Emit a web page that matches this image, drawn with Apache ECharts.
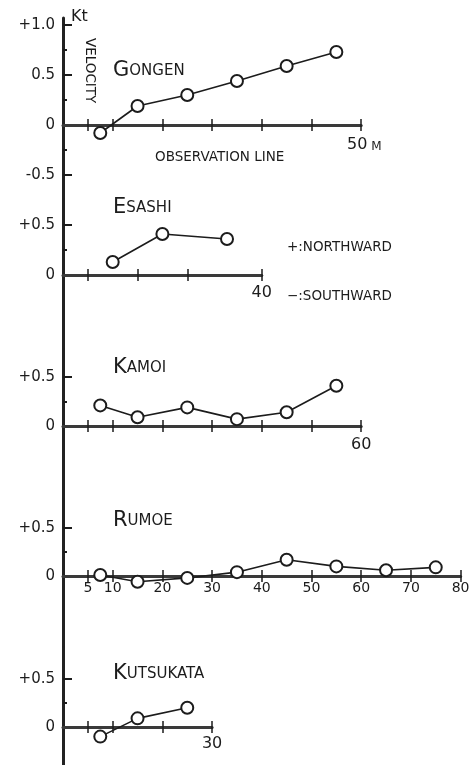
<!DOCTYPE html>
<html>
<head>
<meta charset="utf-8">
<title>Velocity along observation lines</title>
<script src="https://cdn.jsdelivr.net/npm/echarts@6/dist/echarts.min.js"></script>
<style>
  html, body { margin: 0; padding: 0; background: #fff; }
  #chart { width: 474px; height: 765px; }
</style>
</head>
<body>
<div id="chart"></div>
<script>
// Velocity (Kt, + northward / - southward) against distance along the observation line (m)
const stations = ['GONGEN', 'ESASHI', 'KAMOI', 'RUMOE', 'KUTSUKATA'];

const gongenDist = [7.5, 15, 25, 35, 45, 55];
const gongenVel = [-0.08, 0.19, 0.30, 0.44, 0.59, 0.73];
const esashiDist = [10, 20, 33];
const esashiVel = [0.13, 0.41, 0.36];
const kamoiDist = [7.5, 15, 25, 35, 45, 55];
const kamoiVel = [0.21, 0.09, 0.19, 0.07, 0.14, 0.41];
const rumoeDist = [7.5, 15, 25, 35, 45, 55, 65, 75];
const rumoeVel = [0.01, -0.06, -0.02, 0.04, 0.17, 0.10, 0.06, 0.09];
const kutsukataDist = [7.5, 15, 25];
const kutsukataVel = [-0.10, 0.09, 0.20];

// tick marks and tick labels on each observation line (m)
const gongenTicks = [5, 10, 20, 30, 40, 50, 60];
const esashiTicks = [5, 15, 25, 40];
const kamoiTicks = [5, 10, 20, 30, 40, 50, 60];
const rumoeTicks = [5, 10, 20, 30, 40, 50, 60, 70, 80];
const kutsukataTicks = [5, 10, 20, 30];
const gongenTickLabels = [];
const esashiTickLabels = [40];
const kamoiTickLabels = [60];
const rumoeTickLabels = [5, 10, 20, 30, 40, 50, 60, 70, 80];
const kutsukataTickLabels = [30];

// velocity tick labels
const gongenVelLabels = [1, 0.5, 0, -0.5];
const gongenVelText = ['+1.0', '0.5', '0', '-0.5'];
const otherVelLabels = [0.5, 0];
const otherVelText = ['+0.5', '0'];

const FONT = 'DejaVu Sans';
const INK = '#1c1c1c';
const LEFT = 63;          // x of the velocity axis
const PX_PER_M = 4.97;

// layout of the stacked panels (zero line y, px per Kt, lowest velocity shown)
const panels = [
  { dist: gongenDist, vel: gongenVel, ticks: gongenTicks, xLabels: gongenTickLabels,
    yLabels: gongenVelLabels, yText: gongenVelText, yMajor: [1, 0.5, -0.5], yMinor: [0.75, 0.25, -0.25],
    zero: 125, scale: 100, yMin: -0.75, xMargin: 10, xSize: 16, titleTop: 60 },
  { dist: esashiDist, vel: esashiVel, ticks: esashiTicks, xLabels: esashiTickLabels,
    yLabels: otherVelLabels, yText: otherVelText, yMajor: [0.5], yMinor: [0.25],
    zero: 275, scale: 100, yMin: -0.75, xMargin: 10, xSize: 16, titleTop: 197 },
  { dist: kamoiDist, vel: kamoiVel, ticks: kamoiTicks, xLabels: kamoiTickLabels,
    yLabels: otherVelLabels, yText: otherVelText, yMajor: [0.5], yMinor: [0.25],
    zero: 426, scale: 98, yMin: -0.75, xMargin: 11, xSize: 16, titleTop: 357 },
  { dist: rumoeDist, vel: rumoeVel, ticks: rumoeTicks, xLabels: rumoeTickLabels,
    yLabels: otherVelLabels, yText: otherVelText, yMajor: [0.5], yMinor: [0.25],
    zero: 576, scale: 96, yMin: -0.75, xMargin: 5, xSize: 14, titleTop: 510 },
  { dist: kutsukataDist, vel: kutsukataVel, ticks: kutsukataTicks, xLabels: kutsukataTickLabels,
    yLabels: otherVelLabels, yText: otherVelText, yMajor: [0.5], yMinor: [0.25],
    zero: 727, scale: 96, yMin: -0.5, xMargin: 9, xSize: 16, titleTop: 663 }
];

const grids = [];
const xAxes = [];
const yAxes = [];
const series = [];
const graphics = [];

let panelTop = 18;
panels.forEach((p, i) => {
  const end = p.ticks[p.ticks.length - 1];
  const yMax = (p.zero - panelTop) / p.scale;
  const below = -p.yMin * p.scale;   // px from zero line down to the grid bottom
  const height = (p.zero - panelTop) + below;

  grids.push({ left: LEFT, top: panelTop, width: end * PX_PER_M, height: height,
    containLabel: false, outerBoundsMode: 'none' });

  // observation line: ticks cross it, so one axis draws the lower half, one the upper.
  // labels stay at the grid bottom, so pull them back up to the zero line
  xAxes.push({
    type: 'value', gridIndex: i, position: 'bottom', min: 0, max: end,
    axisLine: { show: true, onZero: true, lineStyle: { color: '#3a3a3a', width: 3 } },
    axisTick: { show: true, customValues: p.ticks, length: 6, lineStyle: { color: INK, width: 1.5 } },
    axisLabel: { show: p.xLabels.length > 0, customValues: p.xLabels, margin: p.xMargin - below,
      fontFamily: FONT, fontSize: p.xSize, color: INK, showMinLabel: true, showMaxLabel: true },
    splitLine: { show: false }
  });
  xAxes.push({
    type: 'value', gridIndex: i, position: 'top', min: 0, max: end,
    axisLine: { show: false, onZero: true },
    axisTick: { show: true, customValues: p.ticks, length: 6, lineStyle: { color: INK, width: 1.5 } },
    axisLabel: { show: false },
    splitLine: { show: false }
  });

  yAxes.push({
    type: 'value', gridIndex: i, position: 'left', min: p.yMin, max: yMax,
    axisLine: { show: true, onZero: true, lineStyle: { color: '#222', width: 3 } },
    axisTick: { show: true, inside: true, customValues: p.yMajor, length: 9, lineStyle: { color: INK, width: 2 } },
    axisLabel: { show: true, customValues: p.yLabels, margin: 8, fontFamily: FONT, fontSize: 15, color: INK,
      showMinLabel: true, showMaxLabel: true,
      formatter: v => p.yText[p.yLabels.indexOf(v)] || '' },
    splitLine: { show: false }
  });
  yAxes.push({
    type: 'value', gridIndex: i, position: 'right', min: p.yMin, max: yMax,
    axisLine: { show: false, onZero: true },
    axisTick: { show: true, customValues: p.yMinor, length: 4, lineStyle: { color: INK, width: 2 } },
    axisLabel: { show: false },
    splitLine: { show: false }
  });

  series.push({
    type: 'line', name: stations[i], xAxisIndex: 2 * i, yAxisIndex: 2 * i,
    data: p.dist.map((d, k) => [d, p.vel[k]]),
    symbol: 'circle', symbolSize: 12, clip: false, z: 5,
    lineStyle: { color: INK, width: 1.6 },
    itemStyle: { color: '#fff', borderColor: INK, borderWidth: 2 },
    emphasis: { disabled: true }
  });

  // station name in small capitals
  const name = stations[i];
  graphics.push({
    type: 'text', left: 113, top: p.titleTop,
    style: {
      text: '{a|' + name[0] + '}{b|' + name.slice(1) + '}',
      rich: {
        a: { fontFamily: FONT, fontSize: 21, fill: INK, verticalAlign: 'bottom', lineHeight: 22 },
        b: { fontFamily: FONT, fontSize: 15, fill: INK, verticalAlign: 'bottom', lineHeight: 19,
          padding: [0, 0, 2, 0] }
      }
    }
  });

  panelTop += height;
});

const textStyle = (size) => ({ fontFamily: FONT, fontSize: size, fill: INK });

graphics.push(
  { type: 'text', left: 71, top: 9, style: Object.assign({ text: 'Kt' }, textStyle(16)) },
  { type: 'text', x: 96, y: 38, rotation: -Math.PI / 2, style: Object.assign({ text: 'VELOCITY' }, textStyle(13.5)) },
  { type: 'text', left: 155, top: 150, style: Object.assign({ text: 'OBSERVATION LINE' }, textStyle(13.5)) },
  { type: 'text', left: 347, top: 137,
    style: { text: '{a|50}{b| M}', rich: {
      a: { fontFamily: FONT, fontSize: 16, fill: INK, verticalAlign: 'bottom', lineHeight: 18 },
      b: { fontFamily: FONT, fontSize: 12, fill: INK, verticalAlign: 'bottom', lineHeight: 16 } } } },
  { type: 'text', left: 287, top: 240, style: Object.assign({ text: '+:NORTHWARD' }, textStyle(13.5)) },
  { type: 'text', left: 287, top: 289, style: Object.assign({ text: '\u2212:SOUTHWARD' }, textStyle(13.5)) }
);

const chart = echarts.init(document.getElementById('chart'), null, { renderer: 'canvas' });
chart.setOption({
  backgroundColor: '#fff',
  animation: false,
  grid: grids,
  xAxis: xAxes,
  yAxis: yAxes,
  series: series,
  graphic: graphics
});
window.addEventListener('resize', () => chart.resize());
</script>
</body>
</html>
